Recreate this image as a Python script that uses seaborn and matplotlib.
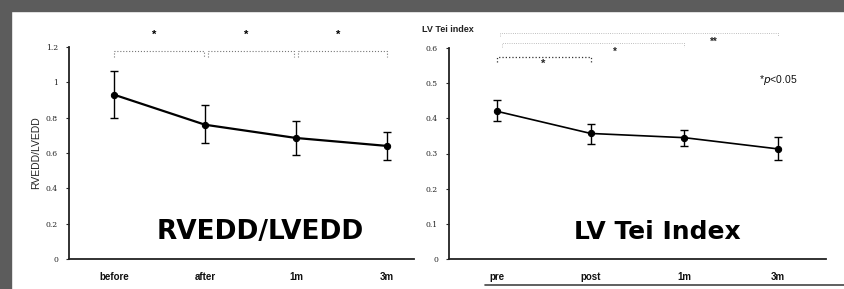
import numpy as np
import matplotlib
matplotlib.use("Agg")
import matplotlib.pyplot as plt
from matplotlib.lines import Line2D
from matplotlib.patches import Rectangle
import pandas as pd
import seaborn as sns


# data
rv_labels = ["before", "after", "1m", "3m"]
rv_mean = [0.93, 0.76, 0.685, 0.64]
rv_upper = [1.065, 0.87, 0.78, 0.72]
rv_lower = [0.80, 0.655, 0.59, 0.56]

tei_labels = ["pre", "post", "1m", "3m"]
tei_mean = [0.42, 0.357, 0.345, 0.313]
tei_upper = [0.452, 0.385, 0.366, 0.348]
tei_lower = [0.393, 0.328, 0.320, 0.282]

rv_ticks = [0, 0.2, 0.4, 0.6, 0.8, 1.0, 1.2]
rv_ticklabels = ["0", "0.2", "0.4", "0.6", "0.8", "1", "1.2"]
tei_ticks = [0, 0.1, 0.2, 0.3, 0.4, 0.5, 0.6]
tei_ticklabels = ["0", "0.1", "0.2", "0.3", "0.4", "0.5", "0.6"]

rv_df = pd.DataFrame({"time": rv_labels, "value": rv_mean})
tei_df = pd.DataFrame({"time": tei_labels, "value": tei_mean})

sns.set_style("white")
plt.rcParams["font.family"] = ["Liberation Sans", "DejaVu Sans"]

W, H = 844, 289
fig = plt.figure(figsize=(W / 100, H / 100), dpi=100)

# scanned slide border
fig.add_artist(Rectangle((0, 1 - 11 / H), 1, 11 / H, transform=fig.transFigure,
                         color="#5c5c5c", zorder=0))
fig.add_artist(Rectangle((0, 0), 11 / W, 1, transform=fig.transFigure,
                         color="#5c5c5c", zorder=0))
fig.add_artist(Line2D([485 / W, 1], [1 - 285 / H] * 2, transform=fig.transFigure,
                      color="#444444", lw=1.2))


def panel(ax, df, up, lo, ticks, ticklabels, lw):
    sns.lineplot(data=df, x="time", y="value", ax=ax, color="black", lw=lw,
                 marker="o", markersize=4.5, markeredgecolor="black", sort=False)
    x = np.arange(len(df))
    m = df["value"].to_numpy()
    yerr = [m - np.array(lo), np.array(up) - m]
    ax.errorbar(x, m, yerr=yerr, fmt="none", ecolor="black", elinewidth=1.0,
                capsize=3, capthick=1.0)
    sns.despine(ax=ax)
    for s in ("left", "bottom"):
        ax.spines[s].set_color("#222222")
        ax.spines[s].set_linewidth(1.3)
    ax.set_yticks(ticks)
    ax.set_yticklabels(ticklabels, fontsize=5.5, color="#222222", family="DejaVu Serif")
    ax.tick_params(axis="y", length=2, width=0.8, pad=6, left=True)
    ax.tick_params(axis="x", length=0, pad=9, labelsize=7, labelcolor="#111111")
    for t in ax.get_xticklabels():
        t.set_fontweight("bold")
    ax.set_xlabel("")
    ax.set_ylabel("")


def bracket(ax, x0, x1, y, drop, color, lw, ls="-"):
    ax.plot([x0, x0, x1, x1], [y - drop, y, y, y - drop], color=color, lw=lw,
            ls=ls, clip_on=False)


# left panel: RVEDD/LVEDD
ax1 = fig.add_axes([69 / W, 1 - 259 / H, 345 / W, 212 / H])
panel(ax1, rv_df, rv_upper, rv_lower, rv_ticks, rv_ticklabels, 1.6)
ax1.set_xlim(-0.495, 3.296)
ax1.set_ylim(0, 1.2)
ax1.set_ylabel("RVEDD/LVEDD", fontsize=7.5, labelpad=3, color="#222222")
for a, b in [(0.0, 0.99), (1.03, 1.98), (2.02, 3.0)]:
    bracket(ax1, a, b, 1.18, 0.035, "#777777", 0.8, ":")
    ax1.text((a + b) / 2 - 0.05, 1.27, "*", ha="center", va="center",
             fontsize=8, fontweight="bold", color="black")
fig.text(260 / W, 1 - 232 / H, "RVEDD/LVEDD", ha="center", va="center",
         fontsize=19, fontweight="bold", family="DejaVu Sans", color="black")

# right panel: LV Tei index
ax2 = fig.add_axes([449 / W, 1 - 259 / H, 377 / W, 211 / H])
panel(ax2, tei_df, tei_upper, tei_lower, tei_ticks, tei_ticklabels, 1.2)
ax2.set_xlim(-0.512, 3.51)
ax2.set_ylim(0, 0.6)
bracket(ax2, 0.0, 1.0, 0.574, 0.014, "#333333", 0.9, ":")
bracket(ax2, 0.05, 2.0, 0.614, 0.01, "#aaaaaa", 0.6, ":")
bracket(ax2, 0.03, 3.0, 0.643, 0.01, "#aaaaaa", 0.6, ":")
ax2.text(0.49, 0.555, "*", ha="center", va="center", fontsize=8, fontweight="bold")
ax2.text(1.26, 0.590, "*", ha="center", va="center", fontsize=7, fontweight="bold")
ax2.text(2.31, 0.617, "**", ha="center", va="center", fontsize=7, fontweight="bold")
ax2.text(2.80, 0.51, "*$\\it{p}$<0.05", ha="left", va="center", fontsize=7.5,
         color="#111111")
fig.text(422 / W, 1 - 30 / H, "LV Tei index", ha="left", va="center",
         fontsize=6.5, fontweight="bold", color="#222222")
fig.text(657 / W, 1 - 232 / H, "LV Tei Index", ha="center", va="center",
         fontsize=18, fontweight="bold", family="DejaVu Sans", color="black")

fig.savefig("out.png", dpi=100, facecolor="white")
